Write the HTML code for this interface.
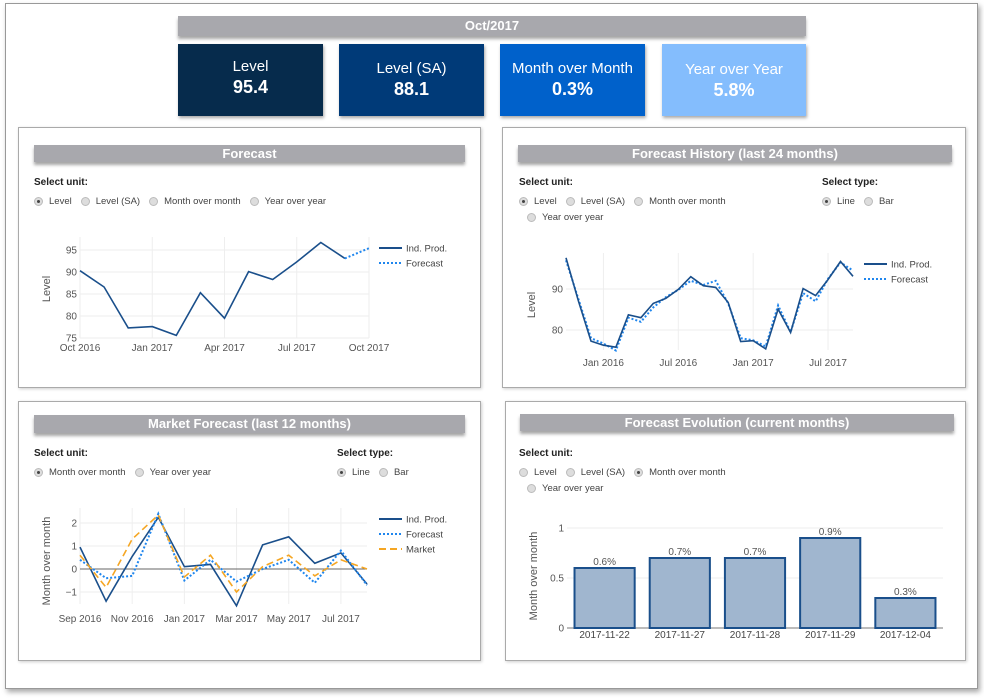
<!DOCTYPE html>
<html><head><meta charset="utf-8">
<style>
*{box-sizing:border-box;margin:0;padding:0}
body{width:984px;height:698px;background:#fff;font-family:"Liberation Sans",sans-serif;position:relative;overflow:hidden;color:#333}
.abs{position:absolute}
.frame{left:5px;top:3px;width:973px;height:686px;border:1px solid #999;box-shadow:2px 3px 5px rgba(0,0,0,.35)}
.bar{background:#a8a8ad;color:#fff;font-weight:bold;font-size:13px;text-align:center;line-height:18px;box-shadow:0 3px 3px rgba(0,0,0,.35)}
.card{color:#fff;text-align:center;box-shadow:1px 2px 3px rgba(0,0,0,.35)}
.card .l{font-size:15px;margin-top:14px}
.card .v{font-size:18px;font-weight:bold;margin-top:2px}
.panel{border:1px solid #aaa;box-shadow:1px 1px 3px rgba(0,0,0,.2);background:#fff}
.sel{font-size:10px;font-weight:bold;color:#222}
.radios{font-size:9.5px;color:#444;display:flex;flex-wrap:wrap;row-gap:4px;width:300px}
.r{display:flex;align-items:center;margin-right:9px;height:12px}
.r i{display:inline-block;width:9px;height:9px;border-radius:50%;border:1px solid #bbb;background:#ddd;margin-right:6px;position:relative}
.r i.on::after{content:"";position:absolute;left:2px;top:2px;width:3px;height:3px;border-radius:50%;background:#444}
svg text{font-family:"Liberation Sans",sans-serif}
</style></head><body>
<div class="abs frame"></div>
<div class="abs bar" style="left:178px;top:16px;width:628px;height:20px;line-height:20px">Oct/2017</div>
<div class="abs card" style="left:178px;top:44px;width:145px;height:72px;background:#062b4c"><div class="l">Level</div><div class="v">95.4</div></div>
<div class="abs card" style="left:339px;top:44px;width:145px;height:72px;background:#003a78"><div class="l" style="margin-top:16px">Level (SA)</div><div class="v">88.1</div></div>
<div class="abs card" style="left:500px;top:44px;width:145px;height:72px;background:#0061cb"><div class="l" style="margin-top:16px">Month over Month</div><div class="v">0.3%</div></div>
<div class="abs card" style="left:662px;top:44px;width:144px;height:72px;background:#84bdfd"><div class="l" style="margin-top:17px">Year over Year</div><div class="v">5.8%</div></div>

<div class="abs panel" style="left:18px;top:127px;width:463px;height:261px"></div>
<div class="abs panel" style="left:502px;top:127px;width:464px;height:261px"></div>
<div class="abs panel" style="left:18px;top:401px;width:463px;height:260px"></div>
<div class="abs panel" style="left:505px;top:401px;width:461px;height:260px"></div>

<div class="abs bar" style="left:34px;top:145px;width:431px;height:17px;line-height:17px">Forecast</div>
<div class="abs bar" style="left:518px;top:145px;width:434px;height:17px;line-height:17px">Forecast History (last 24 months)</div>
<div class="abs bar" style="left:34px;top:415px;width:431px;height:18px;line-height:18px">Market Forecast (last 12 months)</div>
<div class="abs bar" style="left:520px;top:414px;width:434px;height:17px;line-height:17px">Forecast Evolution (current months)</div>

<!-- panel 1 controls -->
<div class="abs sel" style="left:34px;top:177px">Select unit:</div>
<div class="abs radios" style="left:34px;top:195px;width:320px">
<span class="r"><i class="on"></i>Level</span>
<span class="r"><i></i>Level (SA)</span>
<span class="r"><i></i>Month over month</span>
<span class="r"><i></i>Year over year</span>
</div>
<!-- panel 2 controls -->
<div class="abs sel" style="left:519px;top:177px">Select unit:</div>
<div class="abs radios" style="left:519px;top:195px;width:220px">
<span class="r"><i class="on"></i>Level</span>
<span class="r"><i></i>Level (SA)</span>
<span class="r"><i></i>Month over month</span>
<span class="r" style="margin-left:8px"><i></i>Year over year</span>
</div>
<div class="abs sel" style="left:822px;top:177px">Select type:</div>
<div class="abs radios" style="left:822px;top:195px;width:120px">
<span class="r"><i class="on"></i>Line</span>
<span class="r"><i></i>Bar</span>
</div>
<!-- panel 3 controls -->
<div class="abs sel" style="left:34px;top:448px">Select unit:</div>
<div class="abs radios" style="left:34px;top:466px">
<span class="r"><i class="on"></i>Month over month</span>
<span class="r"><i></i>Year over year</span>
</div>
<div class="abs sel" style="left:337px;top:448px">Select type:</div>
<div class="abs radios" style="left:337px;top:466px;width:120px">
<span class="r"><i class="on"></i>Line</span>
<span class="r"><i></i>Bar</span>
</div>
<!-- panel 4 controls -->
<div class="abs sel" style="left:519px;top:448px">Select unit:</div>
<div class="abs radios" style="left:519px;top:466px;width:220px">
<span class="r"><i></i>Level</span>
<span class="r"><i></i>Level (SA)</span>
<span class="r"><i class="on"></i>Month over month</span>
<span class="r" style="margin-left:8px"><i></i>Year over year</span>
</div>

<svg id="chart" class="abs" style="left:0;top:0" width="984" height="698"></svg>

<script>
// Chart 1: Forecast (Oct 2016 - Oct 2017)
const c1Values = [90.3, 86.6, 77.3, 77.6, 75.6, 85.3, 79.5, 90.1, 88.3, 92.3, 96.7, 93.1];
const c1Forecast = [93.1, 95.4];
const c1YTicks = [75, 80, 85, 90, 95];
const c1XTicks = ["Oct 2016", "Jan 2017", "Apr 2017", "Jul 2017", "Oct 2017"];
// Chart 2: Forecast history (Oct 2015 - Sep 2017)
const c2Values = [97.6, 87.0, 77.3, 76.3, 75.8, 83.7, 83.0, 86.5, 87.7, 89.9, 93.0, 90.8, 90.4, 86.7, 77.2, 77.4, 75.4, 85.1, 79.4, 90.1, 88.4, 92.3, 96.7, 93.1];
const c2Forecast = [97.0, 87.5, 78.0, 76.7, 75.0, 83.0, 82.0, 85.5, 88.0, 89.8, 92.0, 91.0, 92.0, 86.5, 78.0, 77.5, 76.0, 86.0, 79.5, 89.0, 87.0, 92.5, 96.5, 94.5];
const c2YTicks = [80, 90];
const c2XTicks = ["Jan 2016", "Jul 2016", "Jan 2017", "Jul 2017"];
// Chart 3: Market forecast (Sep 2016 - Aug 2017)
const c3Values = [0.95, -1.4, 0.55, 2.25, 0.1, 0.2, -1.6, 1.05, 1.4, 0.25, 0.7, -0.65];
const c3Forecast = [0.4, -0.4, -0.3, 2.4, -0.5, 0.4, -0.55, 0.0, 0.4, -0.6, 0.8, -0.7];
const c3Market = [0.6, -0.8, 1.3, 2.35, -0.35, 0.6, -1.0, 0.1, 0.6, -0.3, 0.4, 0.0];
const c3YTicks = [-1, 0, 1, 2];
const c3XTicks = ["Sep 2016", "Nov 2016", "Jan 2017", "Mar 2017", "May 2017", "Jul 2017"];
// Chart 4: Forecast evolution
const c4Categories = ["2017-11-22", "2017-11-27", "2017-11-28", "2017-11-29", "2017-12-04"];
const c4Values = [0.6, 0.7, 0.7, 0.9, 0.3];
const c4Labels = ["0.6%", "0.7%", "0.7%", "0.9%", "0.3%"];
const c4YTicks = [0, 0.5, 1];

const svg = document.getElementById('chart');
const NS = 'http://www.w3.org/2000/svg';
function mk(tag, attrs, parent) {
  const e = document.createElementNS(NS, tag);
  for (const k in attrs) e.setAttribute(k, attrs[k]);
  (parent || svg).appendChild(e);
  return e;
}
function lin(d0, d1, r0, r1) { return v => r0 + (v - d0) * (r1 - r0) / (d1 - d0); }
function pathD(vals, xf, yf, off) {
  return vals.map((v, i) => (i ? 'L' : 'M') + xf(i + (off || 0)).toFixed(1) + ',' + yf(v).toFixed(1)).join(' ');
}
const DARK = '#1a4f8b', BLUE = '#1f86ee', ORANGE = '#f5a623';

function legend(x, y, items) {
  items.forEach((it, i) => {
    const ln = mk('line', {x1: x, x2: x + 23, y1: y + i * 15, y2: y + i * 15, stroke: it.c, 'stroke-width': 2, 'stroke-dasharray': it.d || 'none'});
    
    
    const t = mk('text', {x: x + 27, y: y + i * 15 + 3.5, 'font-size': 9.5, fill: '#444'});
    t.textContent = it.t;
    
    
  });
}
function ytitle(x, y, txt) {
  const t = mk('text', {x: x, y: y, 'font-size': 11, fill: '#555', 'text-anchor': 'middle', transform: 'rotate(-90 ' + x + ' ' + y + ')'});
  t.textContent = txt;
  
  
}
function yticks(ticks, yf, x0, x1, fmt) {
  ticks.forEach(v => {
    const g = mk('line', {x1: x0, x2: x1, y1: yf(v), y2: yf(v), stroke: '#eee', 'stroke-width': 1});
    
    
    const t = mk('text', {x: x0 - 3, y: yf(v) + 3.5, 'font-size': 10, fill: '#555', 'text-anchor': 'end'});
    t.textContent = fmt ? fmt(v) : v;
    
    
  });
}
function xticks(labels, idxs, xf, yTop, yBot, yLab) {
  labels.forEach((l, i) => {
    const x = xf(idxs[i]);
    const g = mk('line', {x1: x, x2: x, y1: yTop, y2: yBot, stroke: '#eee', 'stroke-width': 1});
    
    
    const t = mk('text', {x: x, y: yLab, 'font-size': 10, fill: '#555', 'text-anchor': 'middle'});
    t.textContent = l;
    
    
  });
}

// ---- Chart 1
{
  const xf = lin(0, 12, 80, 369), yf = lin(75, 95, 338, 250);
  yticks(c1YTicks, yf, 80, 369);
  xticks(c1XTicks, [0, 3, 6, 9, 12], xf, 237, 338, 351);
  const p = mk('path', {d: pathD(c1Values, xf, yf), fill: 'none', stroke: DARK, 'stroke-width': 1.6});
  
  
  const f = mk('path', {d: pathD(c1Forecast, xf, yf, c1Values.length - 1), fill: 'none', stroke: BLUE, 'stroke-width': 2, 'stroke-dasharray': '2,2'});
  
  
  ytitle(50, 289, 'Level');
  legend(379, 248, [{t: 'Ind. Prod.', c: DARK}, {t: 'Forecast', c: BLUE, d: '2,2'}]);
}
// ---- Chart 2
{
  const xf = lin(0, 23, 566, 853), yf = lin(80, 90, 330, 289);
  yticks(c2YTicks, yf, 566, 853);
  xticks(c2XTicks, [3, 9, 15, 21], xf, 253, 350, 366);
  const f = mk('path', {d: pathD(c2Forecast, xf, yf), fill: 'none', stroke: BLUE, 'stroke-width': 2, 'stroke-dasharray': '2,2'});
  
  
  const p = mk('path', {d: pathD(c2Values, xf, yf), fill: 'none', stroke: DARK, 'stroke-width': 1.6});
  
  
  ytitle(535, 305, 'Level');
  legend(864, 264, [{t: 'Ind. Prod.', c: DARK}, {t: 'Forecast', c: BLUE, d: '2,2'}]);
}
// ---- Chart 3
{
  const xf = lin(0, 11, 80, 367), yf = lin(0, 2, 569, 523);
  yticks(c3YTicks, yf, 80, 367, v => v < 0 ? '\u2212' + Math.abs(v) : v);
  xticks(c3XTicks, [0, 2, 4, 6, 8, 10], xf, 508, 604, 622);
  const z = mk('line', {x1: 80, x2: 367, y1: yf(0), y2: yf(0), stroke: '#666', 'stroke-width': 1});
  
  
  const p = mk('path', {d: pathD(c3Values, xf, yf), fill: 'none', stroke: DARK, 'stroke-width': 1.6});
  
  
  const f = mk('path', {d: pathD(c3Forecast, xf, yf), fill: 'none', stroke: BLUE, 'stroke-width': 2, 'stroke-dasharray': '2,2'});
  
  
  const m = mk('path', {d: pathD(c3Market, xf, yf), fill: 'none', stroke: ORANGE, 'stroke-width': 1.6, 'stroke-dasharray': '7,4'});
  
  
  ytitle(50, 561, 'Month over month');
  legend(379, 519, [{t: 'Ind. Prod.', c: DARK}, {t: 'Forecast', c: BLUE, d: '2,2'}, {t: 'Market', c: ORANGE, d: '7,4'}]);
}
// ---- Chart 4
{
  const x0 = 567, x1 = 943, band = (x1 - x0) / c4Categories.length;
  const yf = lin(0, 1, 628, 528);
  yticks(c4YTicks, yf, x0, x1);
  const ax = mk('line', {x1: x0, x2: x1, y1: yf(0), y2: yf(0), stroke: '#777', 'stroke-width': 1});
  
  
  c4Values.forEach((v, i) => {
    const cx = x0 + band * (i + 0.5), w = band * 0.8;
    const r = mk('rect', {x: cx - w / 2, y: yf(v), width: w, height: yf(0) - yf(v), fill: '#a0b6cf', stroke: '#1a4f8b', 'stroke-width': 2});
    
    
    const t = mk('text', {x: cx, y: yf(v) - 3, 'font-size': 10, fill: '#555', 'text-anchor': 'middle'});
    t.textContent = c4Labels[i];
    
    
    const xl = mk('text', {x: cx, y: 638, 'font-size': 10, fill: '#444', 'text-anchor': 'middle'});
    xl.textContent = c4Categories[i];
    
    
  });
  ytitle(537, 576, 'Month over month');
}
</script>
</body></html>
